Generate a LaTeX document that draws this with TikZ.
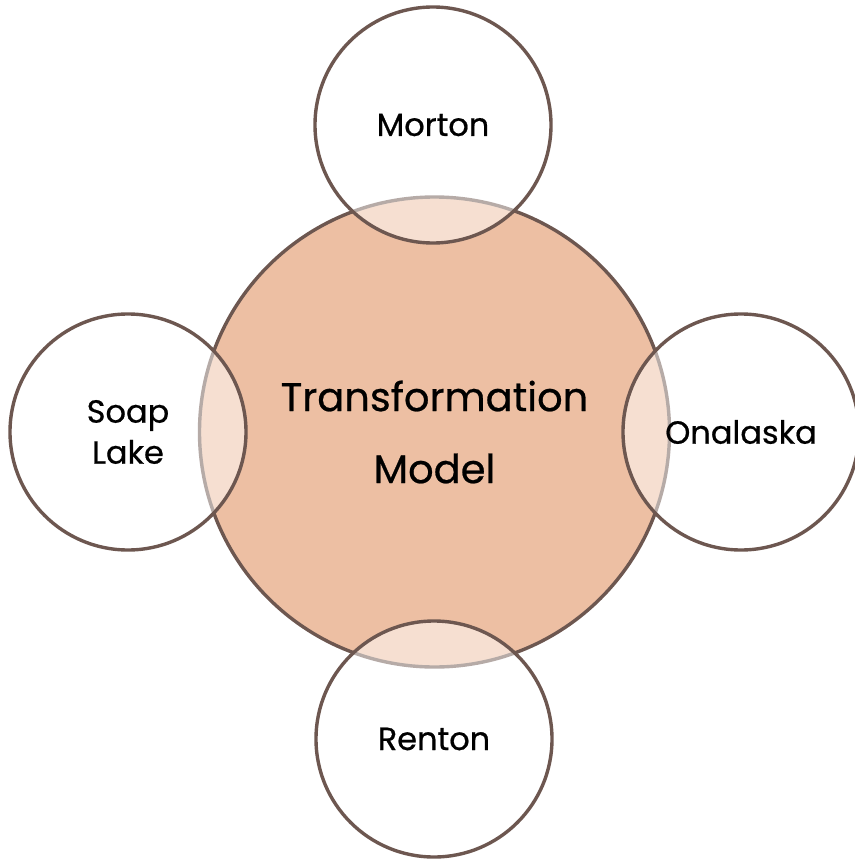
\documentclass[tikz,border=0pt]{standalone}
\usepackage{fontspec}
\setmainfont{Poppins}
\newfontfamily\medfont[FakeBold=0.6]{Poppins}
\begin{document}
\begin{tikzpicture}[x=1pt,y=-1pt,
  edgecol/.style={draw=brownline, line width=3.4pt},
  bigcirc/.style={circle, edgecol, fill=peach, minimum size=470pt, inner sep=0pt,
    align=center, font=\medfont\fontsize{40}{72}\selectfont},
  smallcirc/.style={circle, edgecol, fill=white, fill opacity=0.5, draw opacity=1,
    text opacity=1, minimum size=236pt, inner sep=0pt, align=center,
    font=\medfont\fontsize{32}{41}\selectfont}]
\definecolor{brownline}{HTML}{6D5750}
\definecolor{peach}{HTML}{EDBFA3}
\useasboundingbox (0,0) rectangle (854,859);
\node[bigcirc] (center) at (434.5,432) {Transformation\\Model};
\node[smallcirc] (morton) at (433,125) {Morton};
\node[smallcirc] (renton) at (434,739) {Renton};
\node[smallcirc] (soap) at (128,432) {Soap\\Lake};
\node[smallcirc] (onalaska) at (741,432) {Onalaska};
\end{tikzpicture}
\end{document}
